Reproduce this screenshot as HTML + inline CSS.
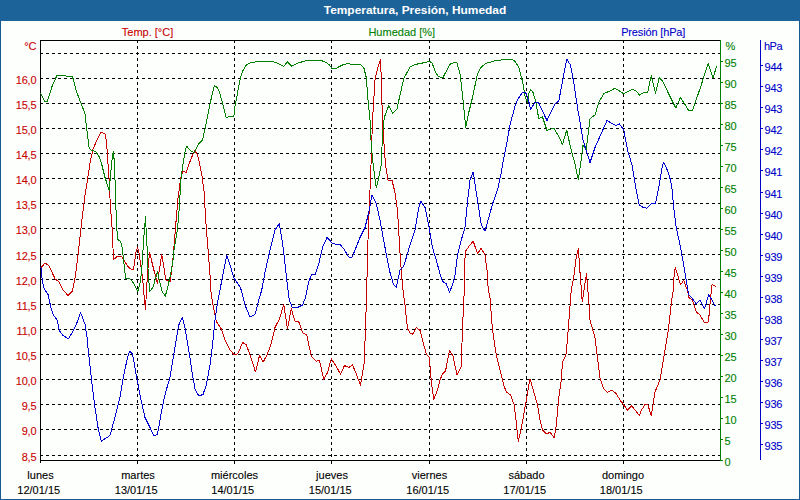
<!DOCTYPE html>
<html><head><meta charset="utf-8"><title>Temperatura, Presión, Humedad</title>
<style>
html,body{margin:0;padding:0;}
body{width:800px;height:500px;overflow:hidden;background:#165a96;position:relative;font-family:"Liberation Sans","DejaVu Sans",sans-serif;}
#bar{position:absolute;left:0;top:0;width:800px;height:21px;background:#1c639a;border-bottom:0;}
#bar span{position:absolute;left:315px;width:200px;text-align:center;top:3.3px;font-size:11px;transform:scaleX(1.083);transform-origin:50% 50%;line-height:14px;font-weight:bold;color:#fff;white-space:nowrap;}
#pane{position:absolute;left:1px;top:21px;width:798px;height:478px;background:#fdfffd;}
.t{position:absolute;font-size:11px;line-height:14px;white-space:nowrap;-webkit-text-stroke:0.1px;}
.n{letter-spacing:-0.15px;}
.b{letter-spacing:-0.2px;}
.h{letter-spacing:-0.5px;}
</style></head><body>
<div id="bar"><span>Temperatura, Presión, Humedad</span></div>
<div id="pane"></div>
<svg width="800" height="500" viewBox="0 0 800 500" style="position:absolute;left:0;top:0">
<g stroke="#000" stroke-width="1" stroke-dasharray="3 3" shape-rendering="crispEdges" fill="none">
<line x1="40" y1="53.5" x2="720" y2="53.5"/>
<line x1="40" y1="78.5" x2="720" y2="78.5"/>
<line x1="40" y1="103.5" x2="720" y2="103.5"/>
<line x1="40" y1="128.5" x2="720" y2="128.5"/>
<line x1="40" y1="153.5" x2="720" y2="153.5"/>
<line x1="40" y1="178.5" x2="720" y2="178.5"/>
<line x1="40" y1="203.5" x2="720" y2="203.5"/>
<line x1="40" y1="228.5" x2="720" y2="228.5"/>
<line x1="40" y1="254.5" x2="720" y2="254.5"/>
<line x1="40" y1="279.5" x2="720" y2="279.5"/>
<line x1="40" y1="304.5" x2="720" y2="304.5"/>
<line x1="40" y1="329.5" x2="720" y2="329.5"/>
<line x1="40" y1="354.5" x2="720" y2="354.5"/>
<line x1="40" y1="379.5" x2="720" y2="379.5"/>
<line x1="40" y1="404.5" x2="720" y2="404.5"/>
<line x1="40" y1="429.5" x2="720" y2="429.5"/>
<line x1="40" y1="455.5" x2="720" y2="455.5"/>
<line x1="137.5" y1="40" x2="137.5" y2="460"/>
<line x1="234.5" y1="40" x2="234.5" y2="460"/>
<line x1="331.5" y1="40" x2="331.5" y2="460"/>
<line x1="429.5" y1="40" x2="429.5" y2="460"/>
<line x1="526.5" y1="40" x2="526.5" y2="460"/>
<line x1="623.5" y1="40" x2="623.5" y2="460"/>
</g>
<g stroke="#000" stroke-width="1" shape-rendering="crispEdges" fill="none">
<line x1="40" y1="40.5" x2="720" y2="40.5"/>
<line x1="40" y1="460.5" x2="720" y2="460.5"/>
<line x1="40.5" y1="40" x2="40.5" y2="463"/>
<line x1="137.5" y1="461" x2="137.5" y2="464"/>
<line x1="234.5" y1="461" x2="234.5" y2="464"/>
<line x1="331.5" y1="461" x2="331.5" y2="464"/>
<line x1="429.5" y1="461" x2="429.5" y2="464"/>
<line x1="526.5" y1="461" x2="526.5" y2="464"/>
<line x1="623.5" y1="461" x2="623.5" y2="464"/>
</g>
<g stroke="#008000" stroke-width="1" shape-rendering="crispEdges" fill="none">
<line x1="720.5" y1="40" x2="720.5" y2="461"/>
<line x1="721" y1="460.5" x2="723" y2="460.5"/>
<line x1="721" y1="439.5" x2="723" y2="439.5"/>
<line x1="721" y1="418.5" x2="723" y2="418.5"/>
<line x1="721" y1="397.5" x2="723" y2="397.5"/>
<line x1="721" y1="376.5" x2="723" y2="376.5"/>
<line x1="721" y1="355.5" x2="723" y2="355.5"/>
<line x1="721" y1="334.5" x2="723" y2="334.5"/>
<line x1="721" y1="313.5" x2="723" y2="313.5"/>
<line x1="721" y1="292.5" x2="723" y2="292.5"/>
<line x1="721" y1="271.5" x2="723" y2="271.5"/>
<line x1="721" y1="250.5" x2="723" y2="250.5"/>
<line x1="721" y1="229.5" x2="723" y2="229.5"/>
<line x1="721" y1="208.5" x2="723" y2="208.5"/>
<line x1="721" y1="187.5" x2="723" y2="187.5"/>
<line x1="721" y1="166.5" x2="723" y2="166.5"/>
<line x1="721" y1="145.5" x2="723" y2="145.5"/>
<line x1="721" y1="124.5" x2="723" y2="124.5"/>
<line x1="721" y1="103.5" x2="723" y2="103.5"/>
<line x1="721" y1="82.5" x2="723" y2="82.5"/>
<line x1="721" y1="61.5" x2="723" y2="61.5"/>
</g>
<g stroke="#0000C8" stroke-width="1" shape-rendering="crispEdges" fill="none">
<line x1="760.5" y1="40" x2="760.5" y2="460"/>
<line x1="761" y1="444.5" x2="763" y2="444.5"/>
<line x1="761" y1="423.5" x2="763" y2="423.5"/>
<line x1="761" y1="402.5" x2="763" y2="402.5"/>
<line x1="761" y1="381.5" x2="763" y2="381.5"/>
<line x1="761" y1="360.5" x2="763" y2="360.5"/>
<line x1="761" y1="339.5" x2="763" y2="339.5"/>
<line x1="761" y1="318.5" x2="763" y2="318.5"/>
<line x1="761" y1="297.5" x2="763" y2="297.5"/>
<line x1="761" y1="276.5" x2="763" y2="276.5"/>
<line x1="761" y1="255.5" x2="763" y2="255.5"/>
<line x1="761" y1="234.5" x2="763" y2="234.5"/>
<line x1="761" y1="213.5" x2="763" y2="213.5"/>
<line x1="761" y1="192.5" x2="763" y2="192.5"/>
<line x1="761" y1="170.5" x2="763" y2="170.5"/>
<line x1="761" y1="149.5" x2="763" y2="149.5"/>
<line x1="761" y1="128.5" x2="763" y2="128.5"/>
<line x1="761" y1="107.5" x2="763" y2="107.5"/>
<line x1="761" y1="86.5" x2="763" y2="86.5"/>
<line x1="761" y1="65.5" x2="763" y2="65.5"/>
</g>
<polyline points="40.5,267 41.25,267.5 45,263 49,265.8 55.3,279.3 58.9,281.6 62.5,289.2 67.9,295.5 72.4,291 75,278.4 77.7,257.5 80,237.5 82.5,215 85,195 87.5,180 90,163 93,149 97.5,138.75 101.25,132 105,133.75 106.5,141.5 107.25,152 108.75,174.5 109.5,185 110.25,205 111.75,223 112.5,235 113.25,254.5 113.7,259.3 117,256.75 121.5,256.3 123.75,260 127.5,265.75 129.75,268.3 133.25,270 134.25,265 135.75,253 137.5,247.5 138.75,251.5 140.25,262 142.5,277 144,295 145.5,309.5 146.25,295 147.3,277 148.5,262 149.7,252.7 151.5,260.5 154.5,272.5 157.5,283.75 159,272.5 161.7,254.5 163.5,265 165.75,280 168,280 170.25,281.5 171.75,269.5 173.25,256 175.5,227.5 177.45,205 177.75,200 180,183.5 181.5,174.5 183.3,171 186,172.7 189,164 192,156.5 194.5,150.5 196.8,153.5 198.75,159.5 201.75,174.5 204,191 205,207.5 206.25,227.5 207.75,245.5 209.25,265 210,275 210.75,290 212.5,302.5 216.25,321.25 221.25,328.75 225,340 230,350 234.5,355 237.5,353.75 240,348.75 242.5,342.5 246.25,344.5 250,355 255.5,372 259.5,355.5 263.25,362 267.5,353.75 271.25,343.75 275,327.5 279.5,318.75 283.75,304.5 287.5,328.75 291.25,308.75 295,321.25 298.75,321.75 302.5,332.5 306.75,335 311.25,356.25 316.25,361.25 319.5,360.5 323.75,379.5 327.5,372.5 331.25,358.75 336.25,366.25 340.5,374.25 344.5,365.5 348.75,367.5 352.5,365 356.25,373.75 360.5,385.5 364.25,362.5 365.5,327.5 366.25,305 366.75,290 367.5,252.5 369.5,202.5 371,165 372.5,120 375,80 377.5,68.75 380.5,59.25 381.25,77.5 382.5,122.5 383.75,140 385.5,165 388,180 392,180.5 395,192.5 397.5,210 400,252.5 401.75,277.5 403,290 405,305 407.5,328.75 410,333 412.5,334.5 416.25,327.5 420,330.5 423.75,345 426.25,353.75 429.25,357.5 431.25,381 433.75,399.5 437.5,390 440,380 442.5,373.75 445.5,371.25 449.5,350.5 453,356.25 457,375 461.25,366.25 462.5,327.5 463.75,302.5 464.25,290 464.5,265 465.5,251.25 470,245 473.25,241.25 477.5,253.75 481.25,248.25 485,255 487,270 488.25,290 490,297.5 492.5,330 496.25,355 502.5,380 503.75,385 506.25,392 510.5,395 514.25,405 516.25,422.5 518.25,441.25 521.25,428.75 525,407.5 528,390 530,378.75 533.75,392 537.5,405 540,420 542.5,430 547,434.25 550,432 554.25,438 556.25,425 558.75,398 561.25,380 562.5,362.5 566.25,353.75 568.75,322.5 571.25,290 573.75,277.5 576.25,257.5 578.5,248.5 579.6,268 580.7,280 581.7,296 582.4,302 584.5,286 586.5,274 588,292 589,304 590,320 595,337.5 597.5,357.5 600,378 603.75,388.75 607.5,392.5 612,390 616.25,393.75 620,400 623.75,405 627.5,410 631.5,405.75 636.25,411.5 639.25,415.5 641.25,410.5 645,404.5 648,405 651.25,416 653,405 655,392 660,380 662.5,365 665.5,347.5 668,332.5 670,315 671.75,300 673.25,290 674.25,272.5 675.4,267.5 678,276.25 680.5,285 683.75,280 686.25,287.5 687.5,290 688.75,297.5 692.5,300 696.25,312 700,315 704.5,323 708,322.5 708.8,318 710,304 711.4,290 712.1,284.4 715.6,286.5" stroke="#C80000" stroke-width="1" fill="none" shape-rendering="crispEdges" stroke-linejoin="round"/>
<polyline points="40.5,93 44.5,101 47.5,101 52.5,85 57,75.5 65,75.5 67,76.5 72.5,76.5 76.25,91 81.25,103.75 85,113.75 86.25,125 89.25,148.75 91.25,150 96,152 99,156.5 101.25,162.5 105,177.5 109.2,190.25 111,170 112.5,155 113.5,151.25 114.3,162.5 115.2,185 115.8,205 116.7,227.5 117.75,239.5 120.75,241.75 122.25,248.5 123.75,262 125.7,278.5 129,278.2 132,280.75 135,286 137.7,291.7 140.25,282.25 141.75,269.5 142.5,257.5 143.7,239.5 144.75,226 145.5,217 146.25,232 147,245.5 147.75,265 148.8,280 149.7,291.25 153,287.5 155.25,279.25 157.5,271.75 159,279.25 162,291.25 165.3,296.2 168,286 171,272.5 173.25,259 174,250 177,232 178.5,218.5 179.5,203 181.2,176 183.75,159.5 185.5,149 186.75,146.3 190.5,150.5 194.25,152.75 198.75,143.75 202.5,140 205,128.75 210,103.75 214.25,85.75 217.5,87.5 220,93.75 226.25,117.5 230,116.25 233.75,117 235,106.25 240,80 242.5,71.25 246.25,65 250,63 257.5,61.5 272.5,61.25 278.75,63.75 283.75,66.25 287.5,62 291.75,66.25 297.5,63.25 306.25,60.5 320,60 326.25,62.5 329.5,65 331.75,68.25 336.25,68.25 342.5,65 347.5,63.5 352.5,64.5 360,64.25 363.75,67.5 366.25,77.5 368.25,102.5 370,120 371.25,145 373.25,165 376.25,188 378.75,177.5 381.25,165 382.5,135 384.25,117.5 388.75,105.5 392.5,113.25 397,108.75 400,95 403.75,78.75 410,67 415,64.5 425,62.5 429.25,61.25 432,63 436.25,73.75 438.75,76.75 443,77.5 446.25,71.25 450,64.25 453.75,62.5 457,63 460,73.75 462.5,95 465.75,127.5 468.75,112.5 472.5,97.5 477.5,73.75 481.25,67 486.25,63.25 495,60.75 505,59.5 511.25,59.25 515,61.25 518.75,67.5 522.5,81.25 525,96.25 527.5,102.5 528.75,93.75 530.5,89.5 533,92.5 535.75,101.25 538.75,118.75 542.5,117 547,130.5 553.75,128 558.75,136.25 562.5,144.5 566.75,130 570,145 575,164.25 578.25,179.5 580.5,165 583,145 586.25,150 588,135 590,118.75 595,115 598.75,102.5 603.75,93.5 610,91 615,88.25 620,91.25 623.75,93.75 632.5,89.25 636.25,91.25 639.5,95 643.75,92.5 647.5,93 651.25,75.5 655.5,93.25 659.25,77.5 662.5,81.25 675.75,108 680.5,97.5 688.75,110.5 692.5,110.5 700,88.75 708.25,63.25 713,78 716.75,65.75" stroke="#008000" stroke-width="1" fill="none" shape-rendering="crispEdges" stroke-linejoin="round"/>
<polyline points="40.5,267 41.4,269.4 42.2,280.2 44,288.3 48.1,294.6 50.8,307.2 53,314.4 57.1,319.8 59.4,330.6 62.5,335 68.4,339 73.3,330.6 77.8,320.7 80.5,312.2 85,324.3 87.1,337.8 87.7,345 91.25,377.5 93.75,397.5 95,407.5 98,427.5 101.25,441.25 110,435.5 116.25,412.5 120,397.5 123.75,375 127,360 129.5,351.25 132.5,353.75 136.25,375 140,395 145,417.5 150,427.5 153.75,435.5 157.5,434.5 161.25,412.5 163.75,400 166.25,390 170,377.5 173.75,355 178.75,325 182.25,317.5 185,327.5 188.75,350 192.5,375 195,388.75 198.75,396 203,394.5 206.25,385 210,365 212.5,345 215,320 217.5,302.5 220,290 223.75,270 226.75,255 230,265 233.75,277.5 240,287 241.25,290 245,305 250,317 255,314.5 258.75,300 261.75,290 265,272.5 270,250 275,230 279.25,223.75 281.25,235 283.75,252.5 286.25,275 288,290 289.25,300 292.5,308 297.5,307.5 302.5,305 305.5,297.5 307,290 308.75,281.25 312,274.25 315,275 318.75,263.75 322.5,247.5 327,237.5 329.5,240 332.5,243.75 340,244.5 343.75,248.75 348.75,257 351.75,258 355,250 360,237.5 365,227.5 368.75,212.5 372,195 376.25,203.75 380,220 385,247.5 390,272.5 393.75,285 396.25,287.5 400,270 403.75,266.25 410,245 415,230 418.75,207.5 420.75,201.25 425,207.5 428.75,225 432.5,247.5 436.25,260 440,273.75 442.5,281.25 446.25,283.75 449.5,292 452.5,285 455,275 457.5,255 461.25,240 465,227.5 468,197.5 470,180 473.25,172 476.25,192.5 481.25,225 485,231.25 488.75,217.5 493,202.5 497.5,190 501.25,172.5 502.5,165 505.5,150 510,125 515,106.25 518,99 522.4,92.4 525,92.4 526.5,94 529.6,104.4 530.5,109.5 535,102.5 538.75,103 542.5,111.25 547,120.5 555,103.75 558.75,101.25 562.5,81.25 566.75,59.25 570.5,65 573.75,82.5 577.5,107.5 583,140 590,162.5 595,147.5 600,136.25 607,120.5 612.5,123.75 616.25,125.5 619.5,124 623.75,130 627.5,150 632,165 636.25,190 639.25,205 642.5,207 646.75,208.25 651.25,203.75 655.5,203.75 658.75,187.5 662.5,165 663.75,162.5 666.25,167.5 669.5,176.25 671.75,186.25 673.75,207.5 676.25,227.5 680,245 683.75,265 686.25,280 688.75,295 692.5,298.75 696.25,303.75 700,300 704.5,308.75 708.75,294.5 712.5,301.25 715.5,306.25" stroke="#0000D0" stroke-width="1" fill="none" shape-rendering="crispEdges" stroke-linejoin="round"/>
</svg>
<div class="t " style="right:763.5px;top:39px;color:#C80000">°C</div>
<div class="t n" style="right:763.5px;top:73px;color:#C80000">16,0</div>
<div class="t n" style="right:763.5px;top:98px;color:#C80000">15,5</div>
<div class="t n" style="right:763.5px;top:123px;color:#C80000">15,0</div>
<div class="t n" style="right:763.5px;top:148px;color:#C80000">14,5</div>
<div class="t n" style="right:763.5px;top:173px;color:#C80000">14,0</div>
<div class="t n" style="right:763.5px;top:198px;color:#C80000">13,5</div>
<div class="t n" style="right:763.5px;top:223px;color:#C80000">13,0</div>
<div class="t n" style="right:763.5px;top:249px;color:#C80000">12,5</div>
<div class="t n" style="right:763.5px;top:274px;color:#C80000">12,0</div>
<div class="t n" style="right:763.5px;top:299px;color:#C80000">11,5</div>
<div class="t n" style="right:763.5px;top:324px;color:#C80000">11,0</div>
<div class="t n" style="right:763.5px;top:349px;color:#C80000">10,5</div>
<div class="t n" style="right:763.5px;top:374px;color:#C80000">10,0</div>
<div class="t n" style="right:763.5px;top:399px;color:#C80000">9,5</div>
<div class="t n" style="right:763.5px;top:424px;color:#C80000">9,0</div>
<div class="t n" style="right:763.5px;top:450px;color:#C80000">8,5</div>
<div class="t " style="left:725.5px;top:39px;color:#008000">%</div>
<div class="t " style="left:724.5px;top:455px;color:#008000">0</div>
<div class="t " style="left:724.5px;top:434px;color:#008000">5</div>
<div class="t " style="left:724.5px;top:413px;color:#008000">10</div>
<div class="t " style="left:724.5px;top:392px;color:#008000">15</div>
<div class="t " style="left:724.5px;top:371px;color:#008000">20</div>
<div class="t " style="left:724.5px;top:350px;color:#008000">25</div>
<div class="t " style="left:724.5px;top:329px;color:#008000">30</div>
<div class="t " style="left:724.5px;top:308px;color:#008000">35</div>
<div class="t " style="left:724.5px;top:287px;color:#008000">40</div>
<div class="t " style="left:724.5px;top:266px;color:#008000">45</div>
<div class="t " style="left:724.5px;top:245px;color:#008000">50</div>
<div class="t " style="left:724.5px;top:224px;color:#008000">55</div>
<div class="t " style="left:724.5px;top:203px;color:#008000">60</div>
<div class="t " style="left:724.5px;top:182px;color:#008000">65</div>
<div class="t " style="left:724.5px;top:161px;color:#008000">70</div>
<div class="t " style="left:724.5px;top:140px;color:#008000">75</div>
<div class="t " style="left:724.5px;top:119px;color:#008000">80</div>
<div class="t " style="left:724.5px;top:98px;color:#008000">85</div>
<div class="t " style="left:724.5px;top:77px;color:#008000">90</div>
<div class="t " style="left:724.5px;top:56px;color:#008000">95</div>
<div class="t h" style="left:764px;top:39px;color:#0000C8">hPa</div>
<div class="t b" style="left:764.5px;top:439px;color:#0000C8">935</div>
<div class="t b" style="left:764.5px;top:418px;color:#0000C8">935</div>
<div class="t b" style="left:764.5px;top:397px;color:#0000C8">936</div>
<div class="t b" style="left:764.5px;top:376px;color:#0000C8">936</div>
<div class="t b" style="left:764.5px;top:355px;color:#0000C8">937</div>
<div class="t b" style="left:764.5px;top:334px;color:#0000C8">937</div>
<div class="t b" style="left:764.5px;top:313px;color:#0000C8">938</div>
<div class="t b" style="left:764.5px;top:292px;color:#0000C8">938</div>
<div class="t b" style="left:764.5px;top:271px;color:#0000C8">939</div>
<div class="t b" style="left:764.5px;top:250px;color:#0000C8">939</div>
<div class="t b" style="left:764.5px;top:229px;color:#0000C8">940</div>
<div class="t b" style="left:764.5px;top:208px;color:#0000C8">940</div>
<div class="t b" style="left:764.5px;top:187px;color:#0000C8">941</div>
<div class="t b" style="left:764.5px;top:165px;color:#0000C8">941</div>
<div class="t b" style="left:764.5px;top:144px;color:#0000C8">942</div>
<div class="t b" style="left:764.5px;top:123px;color:#0000C8">942</div>
<div class="t b" style="left:764.5px;top:102px;color:#0000C8">943</div>
<div class="t b" style="left:764.5px;top:81px;color:#0000C8">943</div>
<div class="t b" style="left:764.5px;top:60px;color:#0000C8">944</div>
<div class="t " style="left:47.5px;width:200px;text-align:center;top:25px;color:#C80000">Temp. [°C]</div>
<div class="t " style="left:301.75px;width:200px;text-align:center;top:25px;color:#008000">Humedad [%]</div>
<div class="t n" style="left:553.2px;width:200px;text-align:center;top:25px;color:#0000C8">Presión [hPa]</div>
<div class="t " style="left:-59.5px;width:200px;text-align:center;top:468px;color:#000">lunes</div>
<div class="t " style="left:-61.25px;width:200px;text-align:center;top:483px;color:#000">12/01/15</div>
<div class="t " style="left:38.0px;width:200px;text-align:center;top:468px;color:#000">martes</div>
<div class="t " style="left:36.25px;width:200px;text-align:center;top:483px;color:#000">13/01/15</div>
<div class="t " style="left:134.5px;width:200px;text-align:center;top:468px;color:#000">miércoles</div>
<div class="t " style="left:132.75px;width:200px;text-align:center;top:483px;color:#000">14/01/15</div>
<div class="t " style="left:232.0px;width:200px;text-align:center;top:468px;color:#000">jueves</div>
<div class="t " style="left:230.25px;width:200px;text-align:center;top:483px;color:#000">15/01/15</div>
<div class="t " style="left:329.5px;width:200px;text-align:center;top:468px;color:#000">viernes</div>
<div class="t " style="left:327.75px;width:200px;text-align:center;top:483px;color:#000">16/01/15</div>
<div class="t " style="left:426.5px;width:200px;text-align:center;top:468px;color:#000">sábado</div>
<div class="t " style="left:424.75px;width:200px;text-align:center;top:483px;color:#000">17/01/15</div>
<div class="t " style="left:523.0px;width:200px;text-align:center;top:468px;color:#000">domingo</div>
<div class="t " style="left:521.25px;width:200px;text-align:center;top:483px;color:#000">18/01/15</div>
</body></html>
